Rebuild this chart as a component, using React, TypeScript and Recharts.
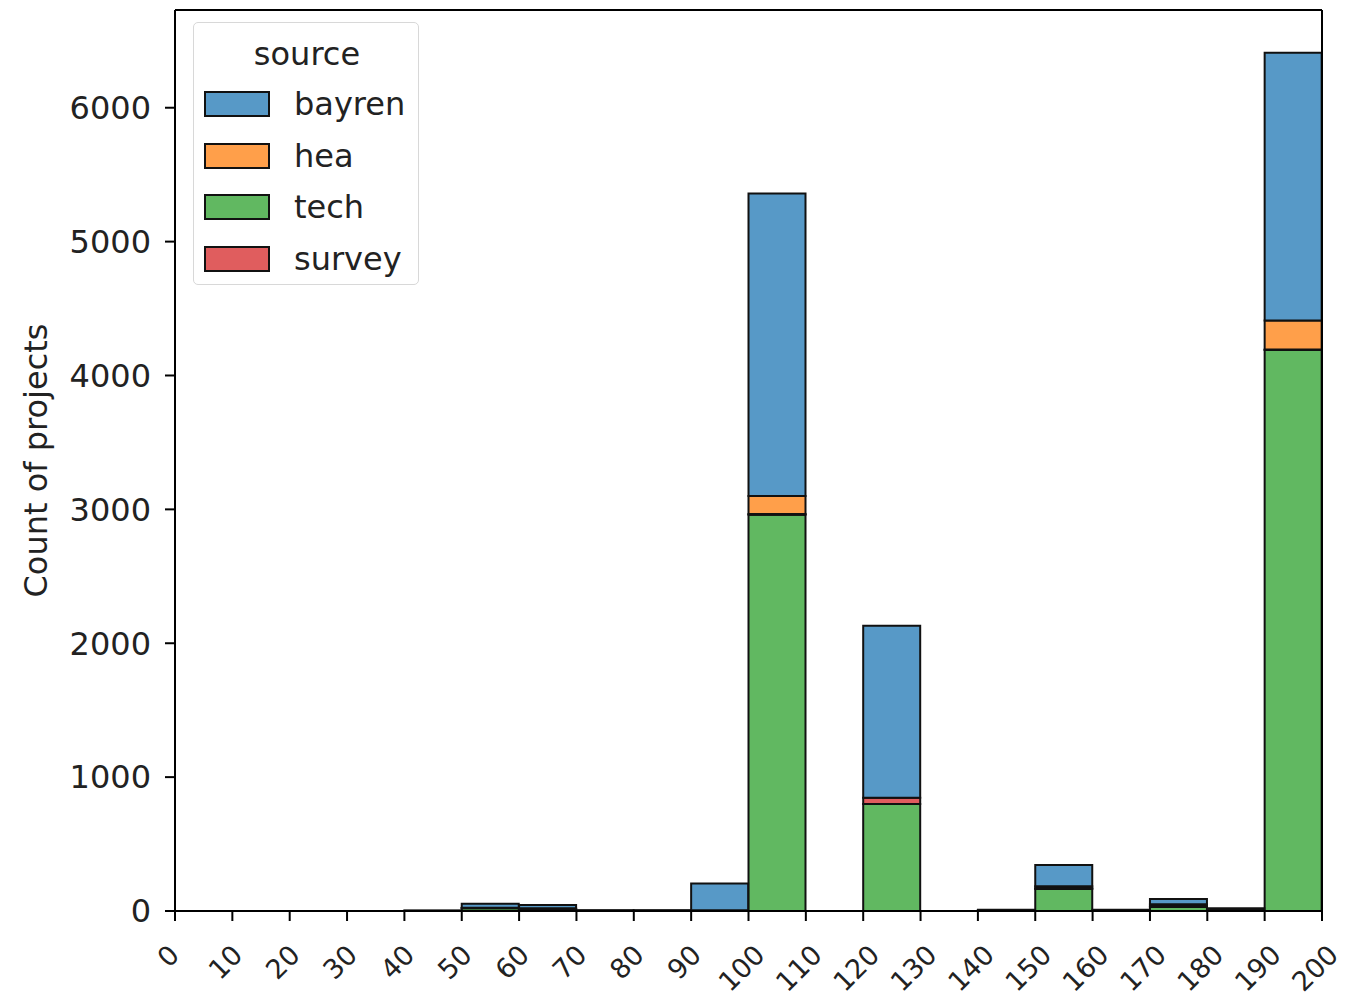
import React from "react";
import { BarChart, Bar, XAxis, YAxis, ReferenceLine } from "recharts";

const binStarts = [0, 10, 20, 30, 40, 50, 60, 70, 80, 90, 100, 110, 120, 130, 140, 150, 160, 170, 180, 190];
const binWidth = 10;
const tech = [0, 0, 0, 0, 2, 20, 15, 4, 3, 5, 2960, 0, 800, 0, 6, 165, 5, 30, 10, 4190];
const survey = [0, 0, 0, 0, 0, 2, 2, 0, 0, 0, 5, 0, 45, 0, 0, 5, 0, 5, 0, 5];
const hea = [0, 0, 0, 0, 0, 3, 3, 0, 0, 0, 135, 0, 0, 0, 0, 15, 0, 15, 0, 215];
const bayren = [0, 0, 0, 0, 1, 30, 25, 2, 2, 200, 2260, 0, 1286, 0, 4, 158, 5, 39, 10, 2000];
const xTicks = [0, 10, 20, 30, 40, 50, 60, 70, 80, 90, 100, 110, 120, 130, 140, 150, 160, 170, 180, 190, 200];
const yTicks = [0, 1000, 2000, 3000, 4000, 5000, 6000];
const yMax = 6730;

const seriesNames = ["bayren", "hea", "tech", "survey"];
const colors: Record<string, string> = {
  bayren: "#5799c7",
  hea: "#ff9f4a",
  tech: "#61b861",
  survey: "#e05d5e",
};

const data = binStarts.map((b, i) => ({
  mid: b + binWidth / 2,
  tech: tech[i],
  survey: survey[i],
  hea: hea[i],
  bayren: bayren[i],
}));

const FONT = "DejaVu Sans, sans-serif";
const FS = 32;
const XFS = 27;

const XTick = (props: any) => {
  const { x, y, payload } = props;
  const label = String(payload.value);
  const w = label.length * 0.636 * XFS;
  const h = 0.73 * XFS;
  const bbox = (w + h) / Math.SQRT2;
  const cx = x - 7;
  const cy = y + 22 + bbox / 2;
  return (
    <text
      x={cx}
      y={cy}
      textAnchor="middle"
      dominantBaseline="central"
      transform={`rotate(-45, ${cx}, ${cy})`}
      fontFamily={FONT}
      fontSize={XFS}
      fill="#222"
    >
      {label}
    </text>
  );
};

const LegendBox = () => (
  <div
    style={{
      position: "absolute",
      left: 185,
      top: 14,
      width: 226,
      height: 263,
      border: "1.5px solid #d8d8d8",
      borderRadius: 5,
      background: "rgba(255,255,255,0.85)",
      boxSizing: "border-box",
      fontFamily: FONT,
      fontSize: FS,
      color: "#222",
    }}
  >
    <div style={{ position: "absolute", left: 0, width: 226, top: 14, textAlign: "center", lineHeight: "34px" }}>
      source
    </div>
    {seriesNames.map((n, i) => (
      <div key={n} style={{ position: "absolute", left: 10, top: 64 + i * 51.7, height: 34, display: "flex", alignItems: "center" }}>
        <div
          style={{
            width: 62,
            height: 22,
            background: colors[n],
            border: "2px solid #111",
            boxSizing: "content-box",
          }}
        />
        <span style={{ marginLeft: 24, lineHeight: "34px" }}>{n}</span>
      </div>
    ))}
  </div>
);

export default function App() {
  return (
    <div style={{ position: "relative", width: 1337, height: 995 }}>
      <BarChart
        width={1337}
        height={995}
        data={data}
        margin={{ top: 2, right: 23, left: 0, bottom: 12 }}
        barCategoryGap={0}
        barGap={0}
        style={{ overflow: "visible" }}
      >
        <XAxis
          dataKey="mid"
          type="number"
          domain={[0, 200]}
          ticks={xTicks}
          allowDataOverflow
          interval={0}
          height={80}
          tickSize={10}
          tickMargin={0}
          axisLine={{ stroke: "#000", strokeWidth: 2 }}
          tickLine={{ stroke: "#000", strokeWidth: 2 }}
          tick={<XTick />}
        />
        <YAxis
          domain={[0, yMax]}
          ticks={yTicks}
          allowDataOverflow
          width={167}
          tickSize={10}
          tickMargin={14}
          axisLine={{ stroke: "#000", strokeWidth: 2 }}
          tickLine={{ stroke: "#000", strokeWidth: 2 }}
          tick={{ fontFamily: FONT, fontSize: FS, fill: "#222" }}
          label={{
            value: "Count of projects",
            angle: -90,
            position: "insideLeft",
            offset: 28,
            style: { fontFamily: FONT, fontSize: FS, fill: "#222", textAnchor: "middle" },
          }}
        />
        <Bar dataKey="tech" stackId="s" fill={colors.tech} stroke="#111" strokeWidth={2} isAnimationActive={false} />
        <Bar dataKey="survey" stackId="s" fill={colors.survey} stroke="#111" strokeWidth={2} isAnimationActive={false} />
        <Bar dataKey="hea" stackId="s" fill={colors.hea} stroke="#111" strokeWidth={2} isAnimationActive={false} />
        <Bar dataKey="bayren" stackId="s" fill={colors.bayren} stroke="#111" strokeWidth={2} isAnimationActive={false} />
        <ReferenceLine y={yMax} stroke="#000" strokeWidth={2} />
        <ReferenceLine x={200} stroke="#000" strokeWidth={2} />
      </BarChart>
      <LegendBox />
    </div>
  );
}
